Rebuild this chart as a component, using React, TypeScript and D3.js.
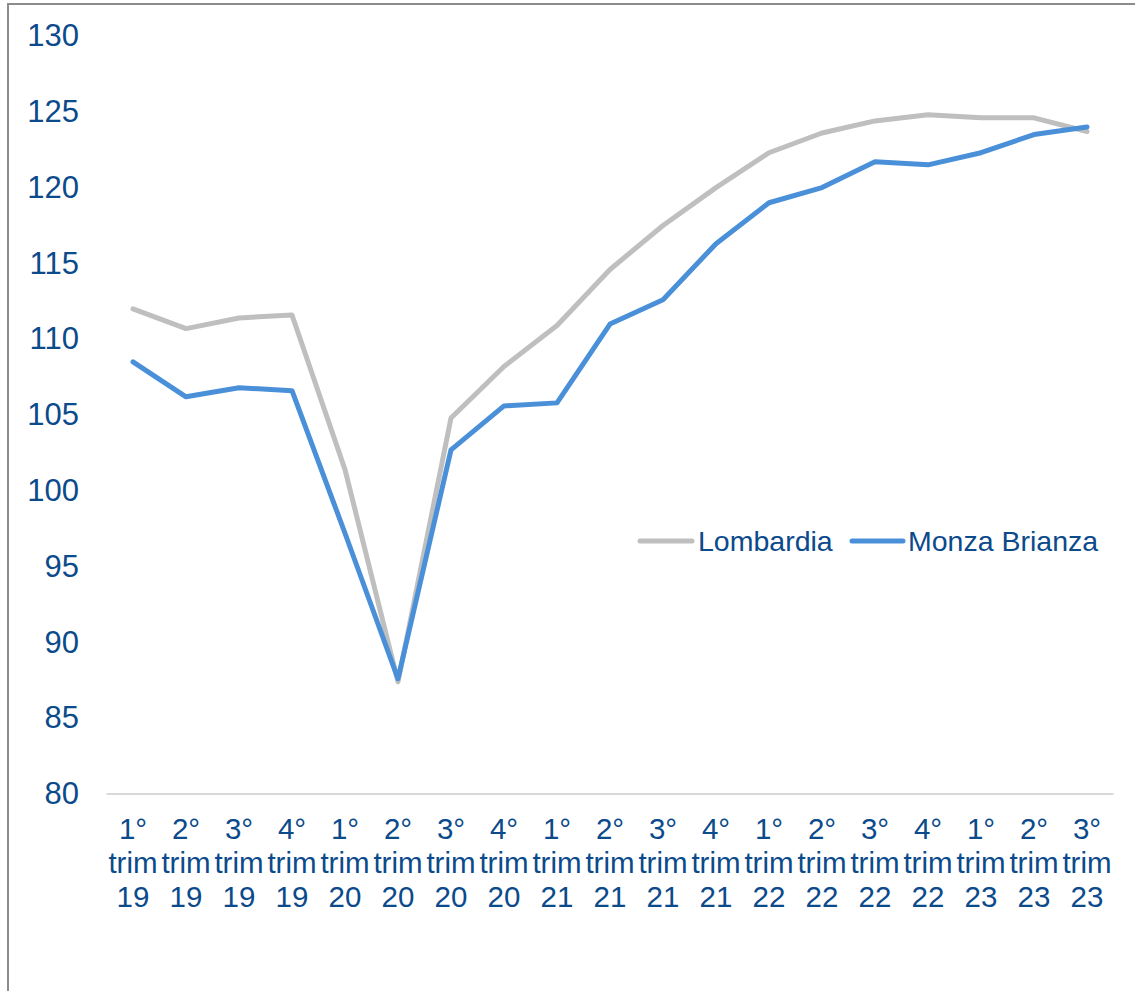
import * as d3 from "d3"
import { useEffect, useRef } from "react"

const quarters = ["1°", "2°", "3°", "4°", "1°", "2°", "3°", "4°", "1°", "2°", "3°", "4°", "1°", "2°", "3°", "4°", "1°", "2°", "3°"]
const years = ["19", "19", "19", "19", "20", "20", "20", "20", "21", "21", "21", "21", "22", "22", "22", "22", "23", "23", "23"]
const lombardia = [112.0, 110.7, 111.4, 111.6, 101.4, 87.4, 104.8, 108.2, 110.9, 114.6, 117.5, 120.0, 122.3, 123.6, 124.4, 124.8, 124.6, 124.6, 123.7]
const monzaBrianza = [108.5, 106.2, 106.8, 106.6, 97.2, 87.6, 102.7, 105.6, 105.8, 111.0, 112.6, 116.3, 119.0, 120.0, 121.7, 121.5, 122.3, 123.5, 124.0]
const yTicks = [80, 85, 90, 95, 100, 105, 110, 115, 120, 125, 130]

const series = [
  { name: "Lombardia", values: lombardia, color: "#BFBFBF" },
  { name: "Monza Brianza", values: monzaBrianza, color: "#4A90D9" },
]

const W = 1135
const H = 991
const textColor = "#0B4A8B"
const font = "'Liberation Sans', Arial, sans-serif"

export default function App() {
  const svgRef = useRef<SVGSVGElement>(null)

  useEffect(() => {
    if (!svgRef.current) return
    const svg = d3.select(svgRef.current)
    svg.selectAll("*").remove()

    // frame
    svg.append("path")
      .attr("d", `M8,${H} L8,4 L${W},4`)
      .attr("fill", "none")
      .attr("stroke", "#8C8C8C")
      .attr("stroke-width", 2)

    const idx = d3.range(quarters.length).map(String)
    const x = d3.scaleBand().domain(idx).range([106.5, 1113.5])
    const y = d3.scaleLinear().domain([80, 130]).range([794, 36])

    // y labels
    svg.append("g")
      .selectAll("text")
      .data(yTicks)
      .join("text")
      .attr("x", 79)
      .attr("y", (d) => y(d))
      .attr("dy", "0.33em")
      .attr("text-anchor", "end")
      .attr("fill", textColor)
      .style("font-family", font)
      .style("font-size", "31px")
      .text((d) => d)

    // baseline
    svg.append("line")
      .attr("x1", 106.5)
      .attr("x2", 1113.5)
      .attr("y1", y(80))
      .attr("y2", y(80))
      .attr("stroke", "#D9D9D9")
      .attr("stroke-width", 2)

    // x labels
    const xl = svg.append("g")
      .selectAll("text")
      .data(idx)
      .join("text")
      .attr("text-anchor", "middle")
      .attr("fill", textColor)
      .style("font-family", font)
      .style("font-size", "29.5px")
    const cx = (i: string) => (x(i) ?? 0) + x.bandwidth() / 2
    xl.append("tspan").attr("x", cx).attr("y", 839).text((i) => quarters[+i])
    xl.append("tspan").attr("x", cx).attr("y", 873).text("trim")
    xl.append("tspan").attr("x", cx).attr("y", 907).text((i) => years[+i])

    // lines
    const line = d3.line<number>()
      .x((_, i) => cx(String(i)))
      .y((d) => y(d))
    series.forEach((s) => {
      svg.append("path")
        .datum(s.values)
        .attr("d", line)
        .attr("fill", "none")
        .attr("stroke", s.color)
        .attr("stroke-width", 5)
        .attr("stroke-linejoin", "round")
        .attr("stroke-linecap", "round")
    })

    // legend
    const legendPos = [{ x1: 640, x2: 692, tx: 698 }, { x1: 852, x2: 903, tx: 908 }]
    series.forEach((s, i) => {
      const p = legendPos[i]
      svg.append("line")
        .attr("x1", p.x1).attr("x2", p.x2)
        .attr("y1", 541).attr("y2", 541)
        .attr("stroke", s.color)
        .attr("stroke-width", 5)
        .attr("stroke-linecap", "round")
      svg.append("text")
        .attr("x", p.tx)
        .attr("y", 541)
        .attr("dy", "0.36em")
        .attr("fill", textColor)
        .style("font-family", font)
        .style("font-size", "28.5px")
        .text(s.name)
    })
  }, [])

  return (
    <svg
      ref={svgRef}
      width={W}
      height={H}
      style={{ position: "absolute", left: 0, top: 0, background: "#fff" }}
    />
  )
}
